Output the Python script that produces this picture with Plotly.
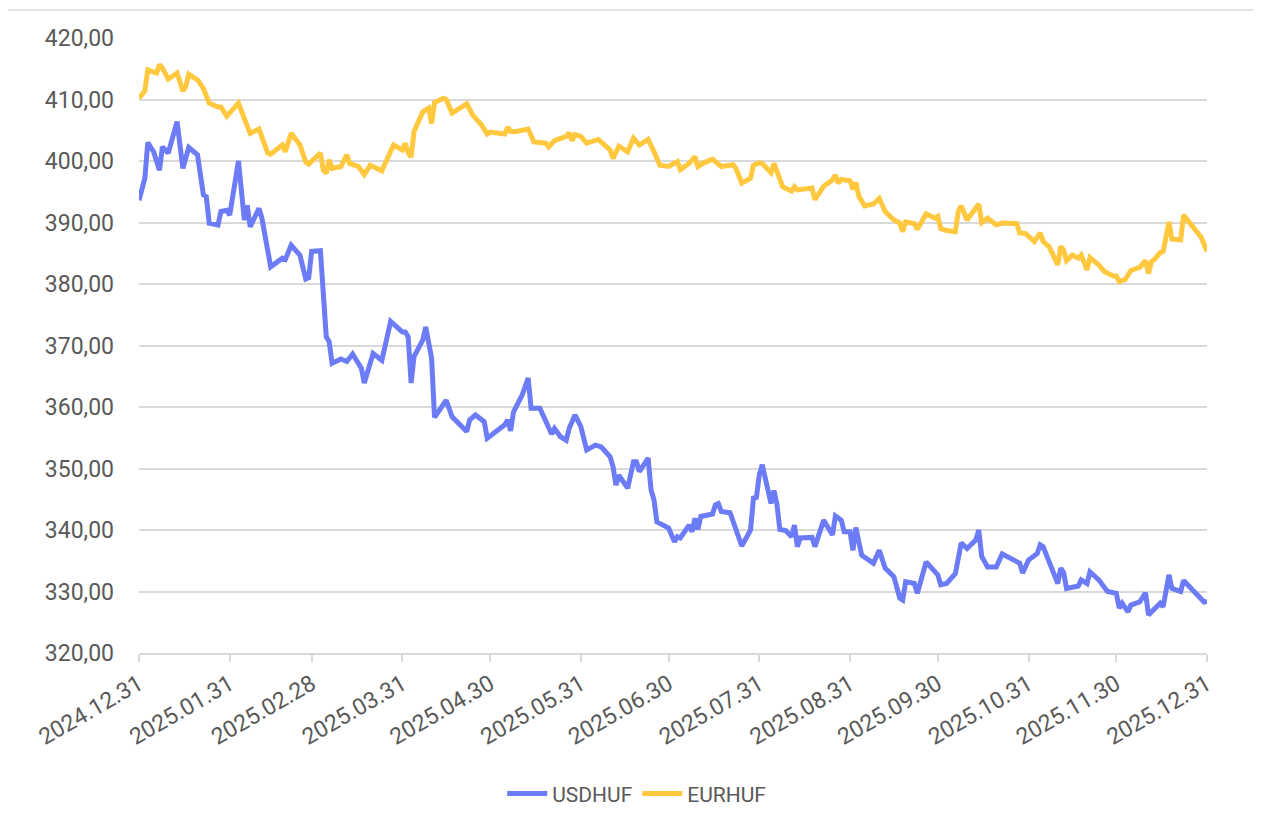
import plotly.graph_objects as go

# USDHUF daily fixing
usd_dates = [
    "2024-12-31", "2025-01-02", "2025-01-03", "2025-01-05", "2025-01-07", "2025-01-08",
    "2025-01-10", "2025-01-13", "2025-01-15", "2025-01-17", "2025-01-20", "2025-01-22",
    "2025-01-23", "2025-01-24", "2025-01-27", "2025-01-28", "2025-01-30", "2025-01-31",
    "2025-02-03", "2025-02-05", "2025-02-06", "2025-02-07", "2025-02-10", "2025-02-11",
    "2025-02-14", "2025-02-18", "2025-02-19", "2025-02-21", "2025-02-24", "2025-02-26",
    "2025-02-27", "2025-02-28", "2025-03-03", "2025-03-05", "2025-03-06", "2025-03-07",
    "2025-03-10", "2025-03-12", "2025-03-14", "2025-03-17", "2025-03-18", "2025-03-21",
    "2025-03-24", "2025-03-27", "2025-03-31", "2025-04-01", "2025-04-02", "2025-04-03",
    "2025-04-04", "2025-04-07", "2025-04-08", "2025-04-10", "2025-04-11", "2025-04-15",
    "2025-04-17", "2025-04-22", "2025-04-23", "2025-04-25", "2025-04-28", "2025-04-29",
    "2025-05-02", "2025-05-05", "2025-05-06", "2025-05-07", "2025-05-08", "2025-05-11",
    "2025-05-13", "2025-05-14", "2025-05-17", "2025-05-19", "2025-05-21", "2025-05-22",
    "2025-05-24", "2025-05-26", "2025-05-27", "2025-05-29", "2025-05-31", "2025-06-02",
    "2025-06-05", "2025-06-07", "2025-06-10", "2025-06-11", "2025-06-12", "2025-06-13",
    "2025-06-16", "2025-06-18", "2025-06-19", "2025-06-20", "2025-06-23", "2025-06-24",
    "2025-06-25", "2025-06-26", "2025-06-29", "2025-06-30", "2025-07-02", "2025-07-03",
    "2025-07-04", "2025-07-07", "2025-07-08", "2025-07-09", "2025-07-10", "2025-07-11",
    "2025-07-15", "2025-07-16", "2025-07-17", "2025-07-18", "2025-07-21", "2025-07-23",
    "2025-07-25", "2025-07-28", "2025-07-29", "2025-07-30", "2025-07-31", "2025-08-01",
    "2025-08-04", "2025-08-05", "2025-08-06", "2025-08-07", "2025-08-09", "2025-08-11",
    "2025-08-12", "2025-08-13", "2025-08-14", "2025-08-18", "2025-08-19", "2025-08-22",
    "2025-08-25", "2025-08-26", "2025-08-28", "2025-08-29", "2025-08-31", "2025-09-01",
    "2025-09-02", "2025-09-03", "2025-09-04", "2025-09-08", "2025-09-10", "2025-09-12",
    "2025-09-15", "2025-09-17", "2025-09-18", "2025-09-19", "2025-09-22", "2025-09-23",
    "2025-09-26", "2025-09-30", "2025-10-01", "2025-10-03", "2025-10-06", "2025-10-08",
    "2025-10-10", "2025-10-13", "2025-10-14", "2025-10-15", "2025-10-17", "2025-10-20",
    "2025-10-22", "2025-10-28", "2025-10-29", "2025-10-31", "2025-11-03", "2025-11-04",
    "2025-11-05", "2025-11-07", "2025-11-10", "2025-11-11", "2025-11-12", "2025-11-13",
    "2025-11-17", "2025-11-18", "2025-11-20", "2025-11-21", "2025-11-24", "2025-11-27",
    "2025-11-30", "2025-12-01", "2025-12-02", "2025-12-04", "2025-12-05", "2025-12-08",
    "2025-12-10", "2025-12-11", "2025-12-13", "2025-12-15", "2025-12-16", "2025-12-18",
    "2025-12-19", "2025-12-22", "2025-12-23", "2025-12-30", "2025-12-31",
]
usd_rates = [
    393.6, 397.2, 403.0, 401.5, 398.5, 402.3,
    401.3, 406.4, 398.8, 402.2, 401.0, 394.5,
    394.2, 389.9, 389.6, 391.8, 392.0, 391.2,
    400.0, 390.4, 392.8, 389.3, 392.3, 390.7,
    382.8, 384.2, 384.0, 386.3, 384.7, 380.8,
    381.0, 385.3, 385.4, 371.4, 370.6, 367.1,
    367.8, 367.4, 368.6, 366.3, 363.9, 368.7,
    367.6, 373.9, 372.2, 372.2, 371.4, 363.9,
    368.2, 370.9, 373.0, 367.9, 358.3, 361.1,
    358.4, 356.0, 357.9, 358.7, 357.6, 354.9,
    356.0, 357.1, 357.9, 356.1, 359.2, 362.0,
    364.7, 359.8, 359.8, 357.6, 355.6, 356.5,
    355.2, 354.6, 356.5, 358.7, 356.8, 353.0,
    353.8, 353.5, 351.9, 350.3, 347.3, 348.9,
    346.8, 351.1, 351.1, 349.5, 351.7, 346.5,
    344.9, 341.3, 340.7, 340.3, 338.1, 338.9,
    338.7, 340.8, 339.7, 341.9, 340.1, 342.2,
    342.6, 344.1, 344.3, 343.0, 342.8, 340.3,
    337.4, 340.0, 345.2, 345.3, 349.0, 350.6,
    344.3, 346.4, 344.3, 340.1, 339.9, 338.9,
    340.8, 337.3, 338.7, 338.8, 337.3, 341.6,
    339.2, 342.3, 341.6, 339.7, 339.7, 336.7,
    340.4, 338.1, 335.9, 334.6, 336.7, 333.8,
    332.4, 328.9, 328.6, 331.6, 331.3, 329.7,
    334.8, 332.7, 331.1, 331.3, 332.9, 337.9,
    337.0, 338.4, 340.0, 335.7, 334.0, 334.0,
    336.1, 334.6, 333.0, 335.1, 336.2, 337.6,
    337.3, 334.9, 331.3, 333.8, 333.1, 330.5,
    330.9, 331.9, 331.3, 333.2, 331.9, 330.0,
    329.7, 327.3, 328.1, 326.7, 327.8, 328.3,
    329.8, 326.2, 327.1, 328.1, 327.5, 332.7,
    330.5, 330.0, 331.8, 328.3, 328.4,
]

# EURHUF daily fixing
eur_dates = [
    "2024-12-31", "2025-01-02", "2025-01-03", "2025-01-06", "2025-01-07", "2025-01-08",
    "2025-01-10", "2025-01-13", "2025-01-15", "2025-01-16", "2025-01-17", "2025-01-20",
    "2025-01-22", "2025-01-24", "2025-01-27", "2025-01-28", "2025-01-30", "2025-02-03",
    "2025-02-05", "2025-02-07", "2025-02-10", "2025-02-13", "2025-02-14", "2025-02-18",
    "2025-02-19", "2025-02-21", "2025-02-24", "2025-02-26", "2025-02-27", "2025-03-03",
    "2025-03-04", "2025-03-05", "2025-03-06", "2025-03-07", "2025-03-10", "2025-03-12",
    "2025-03-13", "2025-03-16", "2025-03-18", "2025-03-20", "2025-03-24", "2025-03-26",
    "2025-03-28", "2025-03-31", "2025-04-01", "2025-04-02", "2025-04-03", "2025-04-04",
    "2025-04-07", "2025-04-09", "2025-04-10", "2025-04-11", "2025-04-14", "2025-04-15",
    "2025-04-17", "2025-04-22", "2025-04-24", "2025-04-27", "2025-04-29", "2025-04-30",
    "2025-05-05", "2025-05-06", "2025-05-07", "2025-05-09", "2025-05-13", "2025-05-15",
    "2025-05-19", "2025-05-20", "2025-05-22", "2025-05-26", "2025-05-27", "2025-05-28",
    "2025-05-29", "2025-05-31", "2025-06-02", "2025-06-06", "2025-06-10", "2025-06-11",
    "2025-06-13", "2025-06-16", "2025-06-18", "2025-06-20", "2025-06-23", "2025-06-25",
    "2025-06-27", "2025-06-30", "2025-07-03", "2025-07-04", "2025-07-07", "2025-07-09",
    "2025-07-10", "2025-07-12", "2025-07-15", "2025-07-18", "2025-07-22", "2025-07-23",
    "2025-07-25", "2025-07-28", "2025-07-29", "2025-07-31", "2025-08-01", "2025-08-04",
    "2025-08-05", "2025-08-08", "2025-08-11", "2025-08-12", "2025-08-13", "2025-08-18",
    "2025-08-19", "2025-08-22", "2025-08-25", "2025-08-26", "2025-08-27", "2025-08-28",
    "2025-08-31", "2025-09-01", "2025-09-02", "2025-09-03", "2025-09-05", "2025-09-08",
    "2025-09-10", "2025-09-12", "2025-09-15", "2025-09-17", "2025-09-18", "2025-09-19",
    "2025-09-22", "2025-09-23", "2025-09-26", "2025-09-29", "2025-09-30", "2025-10-01",
    "2025-10-03", "2025-10-06", "2025-10-07", "2025-10-08", "2025-10-10", "2025-10-14",
    "2025-10-15", "2025-10-17", "2025-10-20", "2025-10-22", "2025-10-27", "2025-10-28",
    "2025-10-30", "2025-11-02", "2025-11-04", "2025-11-05", "2025-11-07", "2025-11-10",
    "2025-11-11", "2025-11-12", "2025-11-13", "2025-11-15", "2025-11-17", "2025-11-18",
    "2025-11-20", "2025-11-21", "2025-11-24", "2025-11-26", "2025-11-27", "2025-11-29",
    "2025-11-30", "2025-12-01", "2025-12-03", "2025-12-05", "2025-12-08", "2025-12-10",
    "2025-12-11", "2025-12-12", "2025-12-13", "2025-12-15", "2025-12-16", "2025-12-18",
    "2025-12-19", "2025-12-22", "2025-12-23", "2025-12-29", "2025-12-31",
]
eur_rates = [
    410.2, 411.4, 414.8, 414.3, 415.7, 415.1,
    413.3, 414.3, 411.4, 412.1, 414.1, 413.2,
    411.8, 409.4, 408.8, 408.8, 407.3, 409.4,
    406.9, 404.5, 405.2, 401.3, 401.1, 402.6,
    401.5, 404.5, 402.6, 399.8, 399.5, 401.3,
    398.5, 398.0, 400.2, 398.8, 399.1, 401.0,
    399.6, 399.1, 397.8, 399.3, 398.4, 400.4,
    402.6, 401.8, 402.9, 401.4, 400.6, 404.8,
    408.0, 408.6, 406.1, 409.5, 410.2, 410.0,
    407.8, 409.3, 407.5, 405.9, 404.4, 404.7,
    404.4, 405.5, 404.8, 404.8, 405.2, 403.1,
    402.9, 402.3, 403.3, 404.0, 404.6, 403.3,
    404.3, 404.0, 402.9, 403.5, 401.8, 400.4,
    402.4, 401.5, 403.7, 402.6, 403.5, 401.5,
    399.3, 399.1, 399.9, 398.6, 399.6, 400.7,
    399.1, 399.7, 400.3, 399.1, 399.4, 398.8,
    396.4, 397.2, 399.3, 399.7, 399.6, 398.1,
    399.6, 395.8, 395.1, 395.8, 395.3, 395.6,
    393.7, 395.9, 396.9, 397.7, 396.4, 397.0,
    396.8, 395.4, 396.5, 394.3, 392.7, 393.0,
    393.9, 391.8, 390.4, 389.9, 388.5, 390.1,
    389.8, 388.9, 391.4, 390.7, 391.0, 389.0,
    388.7, 388.5, 391.8, 392.7, 390.4, 393.0,
    390.0, 390.7, 389.6, 389.9, 389.8, 388.3,
    388.2, 386.9, 388.3, 386.9, 386.1, 383.1,
    386.1, 385.5, 383.8, 384.7, 384.2, 384.7,
    382.3, 384.3, 383.1, 382.0, 381.7, 381.3,
    381.3, 380.4, 380.7, 382.2, 382.7, 383.8,
    381.7, 383.6, 384.0, 385.1, 385.3, 390.1,
    387.3, 387.2, 391.2, 387.6, 385.3,
]

tick_dates = [
    "2024-12-31", "2025-01-31", "2025-02-28", "2025-03-31", "2025-04-30",
    "2025-05-31", "2025-06-30", "2025-07-31", "2025-08-31", "2025-09-30",
    "2025-10-31", "2025-11-30", "2025-12-31",
]
tick_labels = [d.replace("-", ".") for d in tick_dates]

label_color = "#595959"
grid_color = "#d9d9d9"

fig = go.Figure()
fig.add_trace(go.Scatter(
    x=usd_dates, y=usd_rates, name="USDHUF", mode="lines",
    line=dict(color="#6c7bf6", width=5),
))
fig.add_trace(go.Scatter(
    x=eur_dates, y=eur_rates, name="EURHUF", mode="lines",
    line=dict(color="#ffc83e", width=5),
))

# page body has an 8px margin, so the margins are shifted to land the plot
# area at the same place as in the reference screenshot
fig.update_layout(
    width=1261, height=823,
    margin=dict(l=131, r=62, t=30, b=178),
    paper_bgcolor="white", plot_bgcolor="white",
    separators=", ",
    font=dict(family="Roboto", size=23, color=label_color),
    showlegend=True,
    legend=dict(
        orientation="h", x=0.466, xanchor="center", y=-0.229, yanchor="middle",
        font=dict(size=21, color=label_color), itemwidth=40,
    ),
    shapes=[dict(
        type="rect", xref="paper", yref="paper",
        x0=-0.1245, x1=1.0449, y0=-0.30, y1=1.0455,
        line=dict(color=grid_color, width=1.5), layer="below",
    )],
)

fig.update_xaxes(
    type="date", range=["2024-12-31", "2025-12-31"],
    tickvals=tick_dates, ticktext=tick_labels, tickangle=-30,
    showgrid=False, zeroline=False,
    showline=True, linecolor=grid_color, linewidth=1.5,
    ticks="outside", ticklen=7, tickcolor=grid_color, tickwidth=1.5,
    tickfont=dict(size=23, color=label_color),
)
fig.update_yaxes(
    range=[320, 420], dtick=10, tickformat=".2f",
    showgrid=True, gridcolor=grid_color, gridwidth=1.5,
    zeroline=False, showline=False, ticks="",
    ticklabelstandoff=24,
    tickfont=dict(size=23, color=label_color),
)

fig.write_html("out.html")
